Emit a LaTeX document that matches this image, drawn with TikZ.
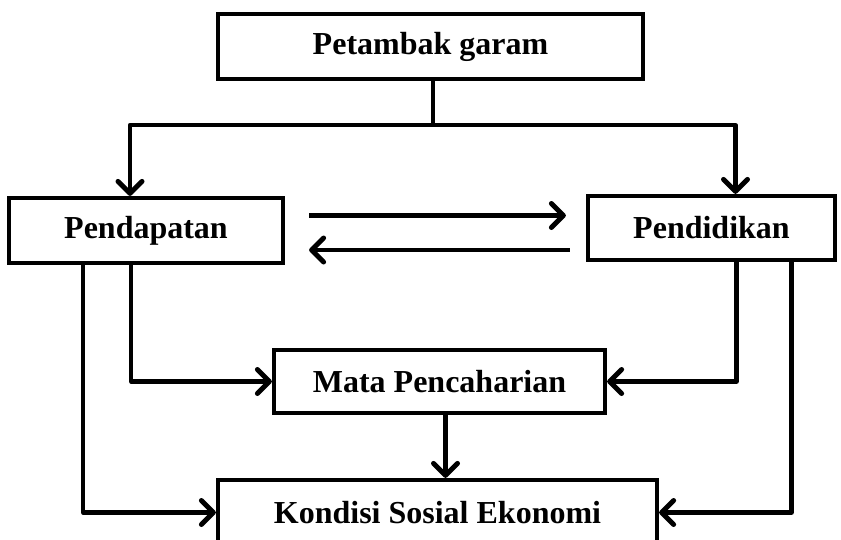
\documentclass[tikz,border=0pt]{standalone}
\usepackage{fontspec}
\setmainfont{Liberation Serif}
\usetikzlibrary{positioning,arrows.meta}

\begin{document}
\begin{tikzpicture}[x=0.5pt, y=-0.5pt, line width=2.1pt,
    box/.style = {draw, rectangle, inner sep=0pt, font=\fontsize{16}{19}\selectfont\bfseries},
    arr/.style = {-{Straight Barb[length=6pt,width=12pt,line width=2.5pt,line join=round,line cap=round]}, line join=round}]
      \useasboundingbox (0,0) rectangle (841,540);
      \node[box, minimum width=212.5pt, minimum height=32.5pt] (petambak) at (430.5,46.5) {Petambak garam};
      \node[box, minimum width=137pt, minimum height=32.5pt] (pendapatan) at (146,230.5) {Pendapatan};
      \node[box, minimum width=123.5pt, minimum height=32pt] (pendidikan) at (711.5,228) {Pendidikan};
      \node[box, minimum width=165.5pt, minimum height=31.5pt] (mata) at (439.5,381.5) {Mata Pencaharian};
      \node[box, minimum width=219.5pt, minimum height=32.5pt] (kondisi) at (437.5,512.5) {Kondisi Sosial Ekonomi};
      \coordinate (split) at (433,125);
      \draw (petambak.south -| split) -- (split);
      \draw[arr] (split) -| ([xshift=-8pt]pendapatan.north);
      \draw[arr] (split) -| ([xshift=12pt]pendidikan.north);
      \draw[arr, shorten <=12pt, shorten >=10pt] ([yshift=7.5pt]pendapatan.east) -- ([yshift=7.5pt]pendapatan.east -| pendidikan.west);
      \draw[arr, shorten <=8pt, shorten >=12pt] ([yshift=-9.75pt]pendapatan.east -| pendidikan.west) -- ([yshift=-9.75pt]pendapatan.east);
      \draw[arr] ([xshift=-31.5pt]pendapatan.south) |- (kondisi.west);
      \draw[arr] ([xshift=-7.5pt]pendapatan.south) |- (mata.west);
      \draw[arr] ([xshift=12.5pt]pendidikan.south) |- (mata.east);
      \draw[arr] ([xshift=40pt]pendidikan.south) |- (kondisi.east);
      \draw[arr] ([xshift=3pt]mata.south) -- ([xshift=3pt]mata.south |- kondisi.north);
    \end{tikzpicture}
\end{document}
